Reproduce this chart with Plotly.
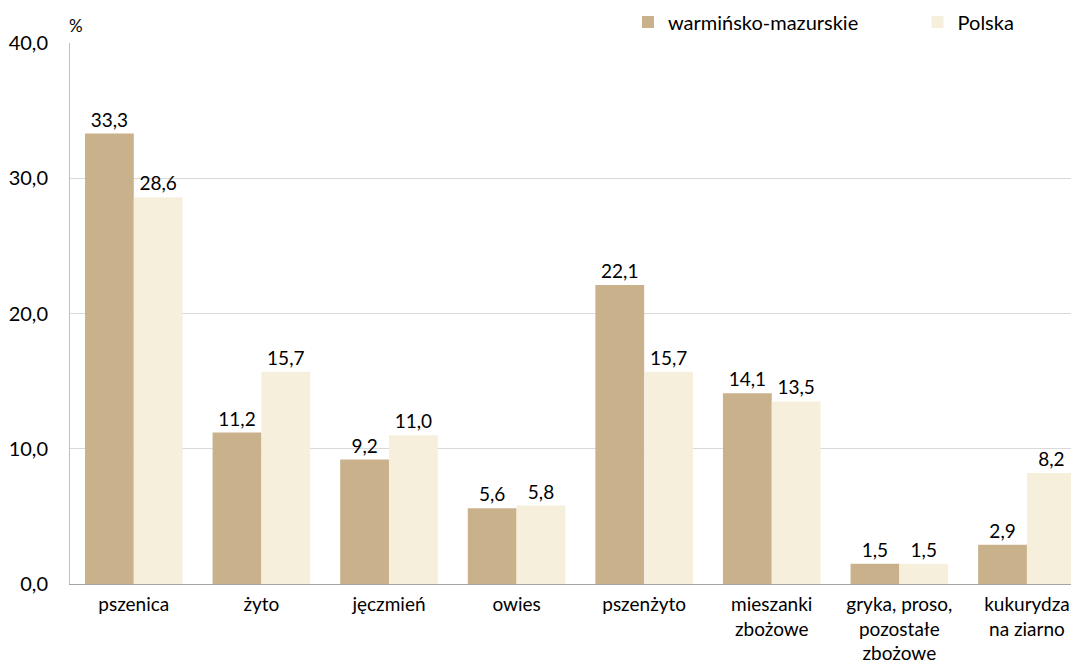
import plotly.graph_objects as go

categories = ["pszenica", "żyto", "jęczmień", "owies", "pszenżyto",
              "mieszanki<br>zbożowe", "gryka, proso,<br>pozostałe<br>zbożowe",
              "kukurydza<br>na ziarno"]
warm_maz = [33.3, 11.2, 9.2, 5.6, 22.1, 14.1, 1.5, 2.9]
polska = [28.6, 15.7, 11.0, 5.8, 15.7, 13.5, 1.5, 8.2]
y_ticks = [0, 10, 20, 30, 40]

FONT = "Lato, 'Open Sans', sans-serif"
xs = list(range(len(categories)))

fig = go.Figure()
fig.add_trace(go.Bar(x=xs, y=warm_maz, name="warmińsko-mazurskie", legend="legend",
                     marker=dict(color="#C9B28B", line=dict(width=0)),
                     texttemplate="%{y:.1f}", textposition="outside",
                     textfont=dict(size=19, color="#000000"), cliponaxis=False))
fig.add_trace(go.Bar(x=xs, y=polska, name="Polska", legend="legend2",
                     marker=dict(color="#F5EFDC", line=dict(width=0)),
                     texttemplate="%{y:.1f}", textposition="outside",
                     textfont=dict(size=19, color="#000000"), cliponaxis=False))

leg_common = dict(orientation="h", yanchor="middle", xanchor="left",
                  font=dict(size=20), itemwidth=30, bgcolor="rgba(0,0,0,0)")

fig.update_layout(
    width=1071, height=658,
    margin=dict(l=62, r=0, t=35, b=82, autoexpand=False),
    paper_bgcolor="white", plot_bgcolor="white",
    font=dict(family=FONT, size=19, color="#000000"),
    separators=",.",
    barmode="group", bargap=0.235, bargroupgap=0,
    showlegend=True,
    legend=dict(x=0.553, y=1.039, **leg_common),
    legend2=dict(x=0.84, y=1.039, **leg_common),
    xaxis=dict(tickmode="array", tickvals=xs, ticktext=categories,
               range=[-0.5, 7.408], showgrid=False, showline=True, linecolor="#A6A6A6",
               linewidth=1, ticks="", tickfont=dict(size=19), zeroline=False,
               ticklabelstandoff=3),
    yaxis=dict(range=[0, 40], tickvals=y_ticks, tickformat=".1f", showgrid=True,
               gridcolor="#D9D9D9", gridwidth=1, showline=True, linecolor="#BFBFBF",
               linewidth=1, ticks="", tickfont=dict(size=20), zeroline=False,
               ticklabelstandoff=17),
    annotations=[dict(text="%", xref="paper", yref="paper", x=-0.003, y=1.033,
                      xanchor="left", yanchor="middle", showarrow=False,
                      font=dict(size=17))],
)

fig.write_html("out.html")
